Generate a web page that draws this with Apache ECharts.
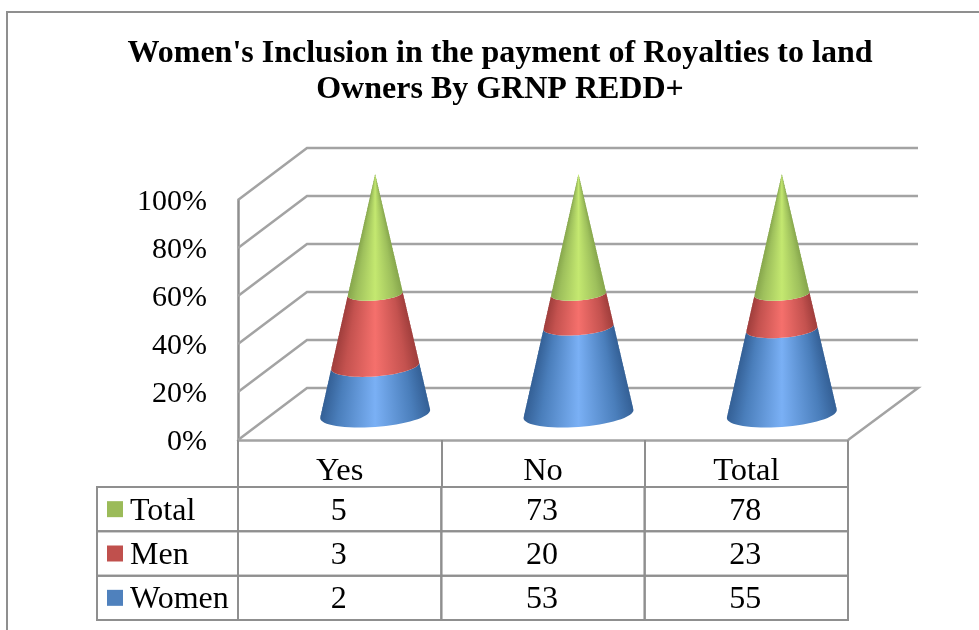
<!DOCTYPE html>
<html><head><meta charset="utf-8">
<style>html,body{margin:0;padding:0;background:#fff}#c{width:979px;height:630px}</style>
<script src="https://cdn.jsdelivr.net/npm/echarts@6/dist/echarts.min.js"></script>
</head><body><div id="c"></div>
<script>
const categories = ['Yes', 'No', 'Total'];
const women = [2, 53, 55];
const men = [3, 20, 23];
const total = [5, 73, 78];
const axisTicks = [0, 20, 40, 60, 80, 100];
const titleText = "Women's Inclusion in the payment of Royalties to land\nOwners By GRNP REDD+";

const FONT = '"Liberation Serif","Times New Roman",serif';
const LINE = '#a3a3a3', TABLE = '#8f8f8f';
const DEPTH_X = 69, DEPTH_Y = 52;
const shades = {
  Women: {dark: '#346096', mid: '#4A7EBB', light: '#7AB0F5', key: '#4F81BD'},
  Men:   {dark: '#A03E3C', mid: '#C4524F', light: '#F5706C', key: '#C0504D'},
  Total: {dark: '#86A64C', mid: '#9EC05C', light: '#C4E870', key: '#9BBB59'}
};
const stackOrder = [['Women', women], ['Men', men], ['Total', total]];
const tableRows = [['Total', total], ['Men', men], ['Women', women]];

function coneItem(name) {
  const s = shades[name];
  const fill = {type: 'linear', x: 0, y: 0, x2: 1, y2: 0, colorStops: [
    {offset: 0, color: s.dark}, {offset: 0.15, color: s.mid}, {offset: 0.5, color: s.light},
    {offset: 0.85, color: s.mid}, {offset: 1, color: s.dark}]};
  return function (params, api) {
    const idx = api.value(0), lo = api.value(1), hi = api.value(2);
    const base = api.coord([idx, 0]), apex = api.coord([idx, 100]);
    const cx = base[0] + DEPTH_X / 2 + 1, y0 = base[1] - DEPTH_Y / 2, y1 = apex[1] - DEPTH_Y / 2;
    const R = 55, S = 13, T = 4, N = 32;
    const arc = (p, rev) => {
      const r = 1 - p / 100, out = [];
      for (let i = 0; i <= N; i++) {
        const th = Math.PI * (rev ? N - i : i) / N;
        out.push([cx + R * r * Math.cos(th), y0 + (y1 - y0) * p / 100 + r * (S * Math.sin(th) - T * Math.cos(th))]);
      }
      return out;
    };
    const strips = Math.max(2, Math.ceil((hi - lo) * 1.2)), children = [];
    for (let j = 0; j < strips; j++) {
      const a = lo + (hi - lo) * j / strips;
      const b = j === strips - 1 ? hi : lo + (hi - lo) * (j + 1.6) / strips;
      children.push({type: 'polygon', shape: {points: arc(a, false).concat(arc(b, true))}, style: {fill}});
    }
    return {type: 'group', children};
  };
}

function wallItem(params, api) {
  const v = api.value(0), p = api.coord([0, v]);
  const cs = params.coordSys;
  const left = cs.x, right = cs.x + cs.width;
  const pts = [[left, p[1]], [left + DEPTH_X, p[1] - DEPTH_Y], [right + DEPTH_X + 1, p[1] - DEPTH_Y]];
  if (v === 0) pts.push([right, p[1]]);
  return {type: 'polyline', shape: {points: pts}, style: {stroke: LINE, lineWidth: 2.5, fill: 'none'}};
}

function cellItem(params, api) {
  const p = api.coord([api.value(0), api.value(1)]);
  const sz = api.size([1, 1]);
  return {type: 'group', children: [
    {type: 'rect', shape: {x: p[0] - sz[0] / 2, y: p[1] - sz[1] / 2, width: sz[0], height: sz[1]},
     style: {fill: 'none', stroke: TABLE, lineWidth: 2}},
    {type: 'text', style: {x: p[0] - 1, y: p[1] + 2, text: String(api.value(2)), fill: '#000',
      font: '32px ' + FONT, align: 'center', verticalAlign: 'middle'}}
  ]};
}

function rowHeadItem(params, api) {
  const r = api.value(1), p = api.coord([0, r]);
  const sz = api.size([1, 1]);
  const left = p[0] - sz[0] / 2 - 141, name = tableRows[r][0];
  return {type: 'group', children: [
    {type: 'rect', shape: {x: left, y: p[1] - sz[1] / 2, width: 141, height: sz[1]},
     style: {fill: 'none', stroke: TABLE, lineWidth: 2}},
    {type: 'rect', shape: {x: left + 10, y: p[1] - 8, width: 16, height: 16}, style: {fill: shades[name].key}},
    {type: 'text', style: {x: left + 33, y: p[1] + 2, text: name, fill: '#000',
      font: '32px ' + FONT, align: 'left', verticalAlign: 'middle'}}
  ]};
}

const series = [];
series.push({type: 'custom', name: 'walls', xAxisIndex: 0, yAxisIndex: 0, z: 1, silent: true, clip: false,
  renderItem: wallItem, data: axisTicks.map(t => [t]), encode: {y: 0}});
categories.forEach((c, i) => {
  const sum = women[i] + men[i] + total[i];
  let acc = 0;
  stackOrder.forEach(([name, arr]) => {
    const lo = acc / sum * 100;
    acc += arr[i];
    series.push({type: 'custom', name: name, xAxisIndex: 0, yAxisIndex: 0, z: 3, silent: true,
      renderItem: coneItem(name), data: [[i, lo, acc / sum * 100]], encode: {x: 0, y: [1, 2]}});
  });
});
const cells = [];
tableRows.forEach(([name, arr], r) => arr.forEach((v, c) => cells.push([c, r, v])));
series.push({type: 'custom', name: 'table', xAxisIndex: 1, yAxisIndex: 1, z: 4, silent: true, clip: false,
  renderItem: cellItem, data: cells, encode: {x: 0, y: 1}});
series.push({type: 'custom', name: 'rows', xAxisIndex: 1, yAxisIndex: 1, z: 4, silent: true, clip: false,
  renderItem: rowHeadItem, data: tableRows.map((r, i) => [0, i]), encode: {x: 0, y: 1}});

const chart = echarts.init(document.getElementById('c'), null, {renderer: 'canvas'});
chart.setOption({
  animation: false,
  backgroundColor: '#fff',
  title: {
    text: titleText, left: 495, top: 31, textAlign: 'center',
    textStyle: {fontFamily: FONT, fontSize: 32, fontWeight: 'bold', color: '#000', lineHeight: 36}
  },
  graphic: [{type: 'polyline', silent: true, z: 0,
    shape: {points: [[7, 630], [7, 12], [979, 12]]},
    style: {stroke: '#8f8f8f', lineWidth: 2, fill: 'none'}}],
  grid: [
    {left: 238, right: 131, top: 200, height: 240},
    {left: 238, right: 131, top: 487, height: 133}
  ],
  xAxis: [
    {type: 'category', gridIndex: 0, data: categories,
     axisLine: {lineStyle: {color: LINE, width: 2.5}},
     axisTick: {show: true, length: 47, lineStyle: {color: TABLE, width: 2}},
     axisLabel: {fontFamily: FONT, fontSize: 32.5, color: '#000', margin: 15}},
    {type: 'category', gridIndex: 1, data: categories, show: false}
  ],
  yAxis: [
    {type: 'value', gridIndex: 0, min: 0, max: 100, interval: 20,
     axisLine: {show: true, lineStyle: {color: TABLE, width: 2.5}},
     axisTick: {show: false}, splitLine: {show: false},
     axisLabel: {fontFamily: FONT, fontSize: 30, color: '#000', margin: 31, verticalAlign: 'top', lineHeight: 4, formatter: '{value}%'}},
    {type: 'category', gridIndex: 1, inverse: true, data: tableRows.map(r => r[0]), show: false}
  ],
  series
});
</script></body></html>
